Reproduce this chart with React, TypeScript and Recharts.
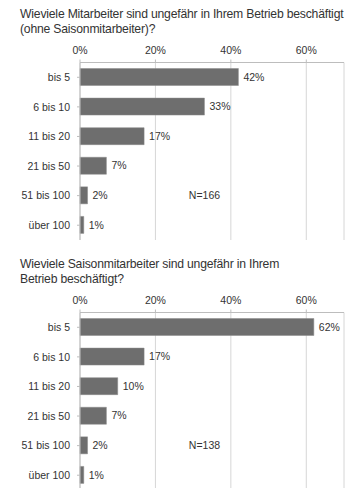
import React from "react";
import {
  BarChart,
  Bar,
  XAxis,
  YAxis,
  CartesianGrid,
  LabelList,
  ReferenceDot,
} from "recharts";

const CATEGORIES = ["bis 5", "6 bis 10", "11 bis 20", "21 bis 50", "51 bis 100", "über 100"];
const STAFF_PCT = [42, 33, 17, 7, 2, 1];
const SEASONAL_PCT = [62, 17, 10, 7, 2, 1];
const X_TICKS = [0, 20, 40, 60];

const TITLE_STAFF = ["Wieviele Mitarbeiter sind ungefähr in Ihrem Betrieb beschäftigt", "(ohne Saisonmitarbeiter)?"];
const TITLE_SEASONAL = ["Wieviele Saisonmitarbeiter sind ungefähr in Ihrem", "Betrieb beschäftigt?"];
const N_STAFF = "N=166";
const N_SEASONAL = "N=138";

const FONT = '"Liberation Sans", Arial, sans-serif';
const BAR_COLOR = "#6e6e6e";
const GRID_COLOR = "#d6d6d6";
const TEXT_COLOR = "#333";

interface PanelProps {
  title: string[];
  values: number[];
  nLabel: string;
}

function Panel({ title, values, nLabel }: PanelProps) {
  const data = CATEGORIES.map((cat, i) => ({ cat, value: values[i] }));

  return (
    <div style={{ position: "relative", width: 359, height: 250 }}>
      <BarChart
        width={359}
        height={250}
        data={data}
        layout="vertical"
        margin={{ top: 45, right: 15, bottom: 10, left: 0 }}
        barSize={17}
        style={{ fontFamily: FONT }}
      >
        <CartesianGrid horizontal={false} stroke={GRID_COLOR} />
        <XAxis
          type="number"
          orientation="top"
          domain={[0, 70]}
          ticks={X_TICKS}
          tickFormatter={(v) => `${v}%`}
          height={17.5}
          tickSize={3}
          tickMargin={6}
          stroke="#bdbdbd"
          tick={{ fontSize: 10.5, fill: TEXT_COLOR }}
        />
        <YAxis
          type="category"
          dataKey="cat"
          width={80}
          tickSize={3}
          tickMargin={7}
          stroke="#bdbdbd"
          tick={{ fontSize: 10.5, fill: TEXT_COLOR }}
        />
        <Bar dataKey="value" fill={BAR_COLOR} stroke="#8a8a8a" strokeWidth={0.5} isAnimationActive={false}>
          <LabelList
            dataKey="value"
            position="right"
            offset={5}
            formatter={(v: number) => `${v}%`}
            style={{ fontSize: 10.5, fill: TEXT_COLOR }}
          />
        </Bar>
        <ReferenceDot
          x={33}
          y="51 bis 100"
          r={0}
          fill="none"
          stroke="none"
          ifOverflow="visible"
          label={{ value: nLabel, position: "center", fontSize: 10.5, fill: TEXT_COLOR }}
        />
      </BarChart>
      <div
        style={{
          position: "absolute",
          left: 20,
          top: 7,
          fontSize: 12.2,
          lineHeight: "14.5px",
          color: TEXT_COLOR,
          letterSpacing: -0.2,
          whiteSpace: "nowrap",
          fontFamily: FONT,
        }}
      >
        {title.map((line) => (
          <div key={line}>{line}</div>
        ))}
      </div>
    </div>
  );
}

export default function App() {
  return (
    <div
      style={{
        position: "absolute",
        left: 0,
        top: 0,
        width: 359,
        height: 488,
        overflow: "hidden",
        background: "#fff",
        fontFamily: FONT,
      }}
    >
      <Panel title={TITLE_STAFF} values={STAFF_PCT} nLabel={N_STAFF} />
      <Panel title={TITLE_SEASONAL} values={SEASONAL_PCT} nLabel={N_SEASONAL} />
    </div>
  );
}
